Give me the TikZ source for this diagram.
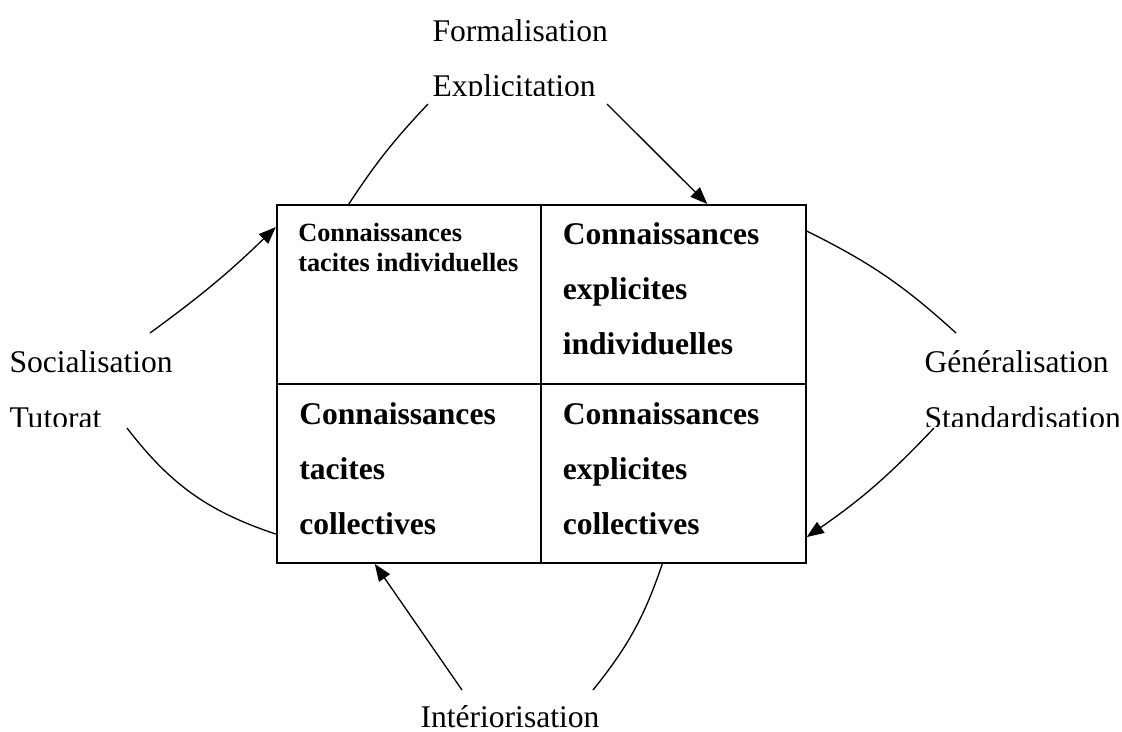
\documentclass[tikz,border=0pt]{standalone}
\usepackage{fontspec}
\setmainfont{Liberation Serif}
\usetikzlibrary{calc,arrows.meta}

\begin{document}
\begin{tikzpicture}[
  x=0.38pt, y=-0.38pt,
  cell/.style={draw, line width=0.75pt, minimum width=100.5pt,
    minimum height=68pt, inner sep=0pt},
  celltext/.style={anchor=base west, inner sep=0pt, align=left,
    font=\fontsize{12}{20.9}\selectfont\bfseries},
  mode/.style={anchor=base west, inner sep=0pt,
    font=\fontsize{12}{14}\selectfont},
  link/.style={line width=0.5pt},
  arr/.style={link, -{Triangle[length=6.5pt, width=5pt]}},
]
\useasboundingbox (0,0) rectangle (1122,731);

% Matrix of the four kinds of knowledge
\node[cell] (tl) at (409,294.5) {};
\node[cell] (tr) at (673.5,294.5) {};
\node[cell] (bl) at (409,473.5) {};
\node[cell] (br) at (673.5,473.5) {};

% (base = baseline of the last line)
\node[celltext, font=\fontsize{10}{11.4}\selectfont\bfseries] (tltxt)
  at ($(tl.north west)+(22,67)$) {Connaissances\\tacites individuelles};
\node[celltext] (trtxt) at ($(tr.north west)+(22,150)$)
  {Connaissances\\explicites\\individuelles};
\node[celltext] (bltxt) at ($(bl.north west)+(23,151)$)
  {Connaissances\\tacites\\collectives};
\node[celltext] (brtxt) at ($(br.north west)+(22,151)$)
  {Connaissances\\explicites\\collectives};

% Conversion modes
\node[mode] (formal) at (432,41) {Formalisation};
\begin{scope}
  \clip (400,60) rectangle (640,95);
  \node[mode] (explic) at (432,96) {Explicitation};
\end{scope}
\node[mode] (social) at (9,372) {Socialisation};
\begin{scope}
  \clip (0,390) rectangle (200,426);
  \node[mode] (tutorat) at (9,428) {Tutorat};
\end{scope}
\node[mode] (general) at (924,372) {Généralisation};
\begin{scope}
  \clip (900,390) rectangle (1122,426);
  \node[mode] (standard) at (924,428) {Standardisation};
\end{scope}
\node[mode] (interior) at (420,727) {Intériorisation};

% Free ends near the labels
\coordinate (explicA) at (428,104);
\coordinate (explicB) at (607,104);
\coordinate (generalA) at (956,333);
\coordinate (standardB) at (934,428);
\coordinate (interiorA) at (462,690);
\coordinate (interiorB) at (593,690);
\coordinate (socialA) at (150,333);
\coordinate (tutoratB) at (127,428);

% Arrows
\draw[link] ($(tl.north west)+(73,0)$) to[bend left=5] (explicA);
\draw[arr] (explicB) -- ($(tr.north west)+(167,0)$);
\draw[link] ($(tr.north east)+(0,27)$) to[bend left=8] (generalA);
\draw[arr] (standardB) to[bend left=6] ($(br.north east)+(0,154)$);
\draw[arr] (interiorA) -- ($(bl.south west)+(99,0)$);
\draw[link] ($(br.south west)+(122,0)$) to[bend left=10] (interiorB);
\draw[arr] (socialA) to[bend right=4] ($(tl.north west)+(0,23)$);
\draw[link] (tutoratB) to[bend right=17] ($(bl.north west)+(0,151)$);

\end{tikzpicture}
\end{document}
